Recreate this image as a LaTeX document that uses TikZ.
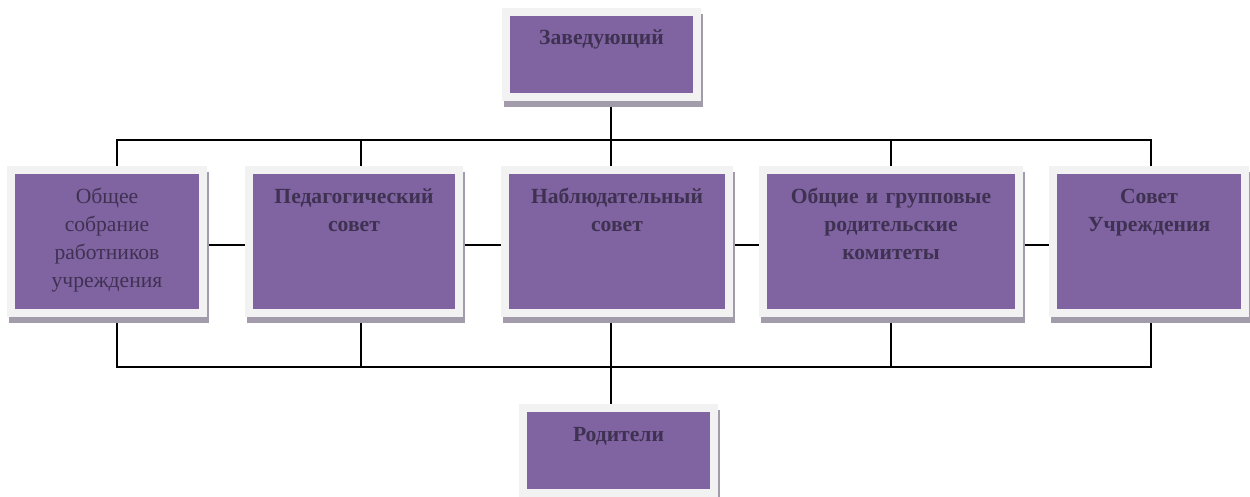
\documentclass[tikz,border=0pt]{standalone}
\usepackage{fontspec}
\setmainfont{Liberation Serif}
\usetikzlibrary{positioning, shadows, backgrounds}
\definecolor{boxpurple}{HTML}{8064A2}
\definecolor{framegray}{HTML}{F2F2F2}
\definecolor{shadegray}{HTML}{A29CAA}
\definecolor{textpurple}{HTML}{3F3151}

\begin{document}
\begin{tikzpicture}[
    x=1pt, y=-1pt,
    organ/.style={draw=framegray, line width=8pt, fill=boxpurple, inner sep=0pt, align=center, text=textpurple, font=\fontsize{21.6}{28}\selectfont\bfseries, drop shadow={shadow xshift=2pt, shadow yshift=-6pt, fill=shadegray, draw=shadegray, line width=8pt, opacity=1}},
    rowbox/.style={organ, text width=#1, text height=34pt, text depth=109pt},
    endbox/.style={organ, text width=191pt, text height=33pt, text depth=52pt},
    link/.style={line width=1.2pt, black},
]
\useasboundingbox (0,0) rectangle (1250,497);

% Draw the row of councils
\node[rowbox=192pt, font=\fontsize{21.6}{27.7}\selectfont] (OS) at (107,241.5) {Общее\\собрание\\работников\\учреждения};
\node[rowbox=210pt, right=38pt of OS] (PS) {Педагогический\\совет};
\node[rowbox=224pt, right=38pt of PS] (NS) {Наблюдательный\\совет};
\node[rowbox=256pt, right=26pt of NS] (RK) {Общие и групповые\\родительские\\комитеты};
\node[rowbox=192pt, right=26pt of RK] (SU) {Совет\\Учреждения};

% Draw the head and the parents
\node[endbox] (ZV) at (601.5,54.5) {Заведующий};
\node[endbox] (RD) at (618.5,450.5) {Родители};

% Draw the connectors
\begin{scope}[on background layer]
\coordinate (TL) at (117,140);
\coordinate (TR) at (1151,140);
\coordinate (BL) at (117,367);
\coordinate (BR) at (1151,367);
\draw[link] ([xshift=10pt]OS.north) -- (TL) -- (TR) -- ([xshift=2pt]SU.north);
\draw[link] ([xshift=10pt]OS.south) -- (BL) -- (BR) -- ([xshift=2pt]SU.south);
\foreach \b/\dx in {PS/7, RK/0} {
    \draw[link] ([xshift=\dx pt]\b.north) -- ++(0,-26);
    \draw[link] ([xshift=\dx pt]\b.south) -- ++(0,50);
}
\draw[link] ([xshift=9.5pt]ZV.south) -- ([xshift=-6pt]NS.north);
\draw[link] ([xshift=-6pt]NS.south) -- ([xshift=-7.5pt]RD.north);
\foreach \a/\b in {OS/PS, PS/NS, NS/RK, RK/SU}
    \draw[link] ([yshift=-3.5pt]\a.east) -- ([yshift=-3.5pt]\b.west);
\end{scope}

\end{tikzpicture}
\end{document}
